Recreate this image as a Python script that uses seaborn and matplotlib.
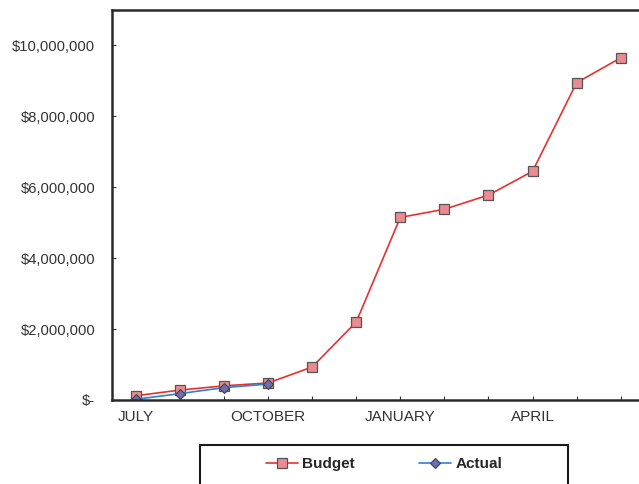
import matplotlib
matplotlib.use("Agg")
import matplotlib.pyplot as plt
import matplotlib.ticker as mticker
from matplotlib.patches import Rectangle
import pandas as pd
import seaborn as sns

# monthly cumulative values (fiscal year July - June)
months = ["JUL", "AUG", "SEP", "OCT", "NOV", "DEC", "JAN", "FEB", "MAR", "APR", "MAY", "JUN"]
budget = [120000, 280000, 400000, 480000, 930000, 2200000, 5150000, 5380000, 5780000, 6450000, 8950000, 9650000]
actual = [20000, 180000, 350000, 450000]
tick_labels = ["JULY", "OCTOBER", "JANUARY", "APRIL"]

budget_df = pd.DataFrame({"idx": range(len(budget)), "value": budget})
actual_df = pd.DataFrame({"idx": range(len(actual)), "value": actual})

sns.set_theme(style="white")
plt.rcParams["font.family"] = ["Liberation Sans", "DejaVu Sans"]

fig = plt.figure(figsize=(6.39, 4.84), dpi=100)
ax = fig.add_axes([112 / 639, 84 / 484, 1.0 - 112 / 639 + 0.01, 390 / 484])

sns.lineplot(data=budget_df, x="idx", y="value", ax=ax, color="#e8302e", linewidth=1.2,
             marker="s", markersize=7, markerfacecolor="#ec8a93", markeredgecolor="#555555",
             markeredgewidth=0.9, label="Budget")
sns.lineplot(data=actual_df, x="idx", y="value", ax=ax, color="#2f7fd6", linewidth=1.2,
             marker="D", markersize=5, markerfacecolor="#6a6fb0", markeredgecolor="#444444",
             markeredgewidth=0.8, label="Actual")

ax.set_xlim(-0.54, 11.56)
ax.set_ylim(0, 11000000)
ax.set_xlabel("")
ax.set_ylabel("")

ax.set_xticks([0, 3, 6, 9])
ax.set_xticklabels(tick_labels)
ax.set_xticks(range(len(months)), minor=True)
ax.set_yticks(range(0, 10000001, 2000000))
ax.yaxis.set_major_formatter(mticker.FuncFormatter(lambda v, p: "$-" if v == 0 else f"${v:,.0f}"))
ax.tick_params(axis="y", which="major", direction="in", length=3, width=0.8, color="#333333",
               labelsize=10.6, labelcolor="#333333", pad=12, left=True)
ax.tick_params(axis="x", which="major", direction="in", length=3, width=0.8, color="#333333",
               labelsize=11, labelcolor="#333333", pad=7, bottom=True)
ax.tick_params(axis="x", which="minor", direction="in", length=3, width=0.8, color="#333333", bottom=True)

for side in ["left", "top", "bottom"]:
    ax.spines[side].set_color("#2a2a2a")
    ax.spines[side].set_linewidth(1.8)
ax.spines["right"].set_visible(False)

# legend box (runs off the bottom edge, as in the scan)
ax.get_legend().remove()
fig.patches.append(Rectangle((200 / 639, -0.05), 368 / 639, 0.05 + 39 / 484,
                             transform=fig.transFigure, fill=False,
                             edgecolor="#1a1a1a", linewidth=1.5))
handles, labels = ax.get_legend_handles_labels()
fig.legend(handles, labels, loc="center", bbox_to_anchor=(0.601, 0.041),
           ncol=2, frameon=False, columnspacing=4.2, handlelength=2.1, handletextpad=0.3,
           prop={"weight": "bold", "size": 11})

fig.savefig("out.png", dpi=100)
